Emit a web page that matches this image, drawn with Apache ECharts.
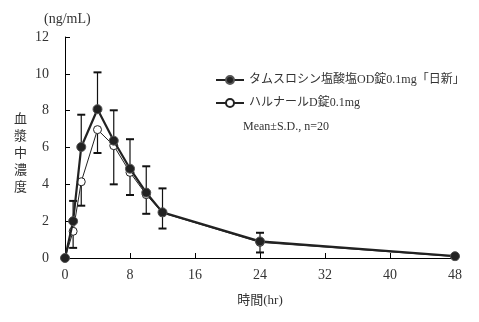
<!DOCTYPE html>
<html><head><meta charset="utf-8">
<script src="https://cdn.jsdelivr.net/npm/echarts@6/dist/echarts.min.js"></script>
<style>html,body{margin:0;padding:0;background:#fff}#c{width:479px;height:322px}</style>
</head><body><div id="c"></div>
<script>
var times = [0, 1, 2, 4, 6, 8, 10, 12, 24, 48];
var nisshinMean = [0, 2.0, 6.03, 8.08, 6.37, 4.85, 3.55, 2.48, 0.9, 0.1];
var nisshinSD   = [0, 1.1, 1.75, 2.0, 1.65, 1.6, 1.43, 1.3, 0.47, 0];
var harnalMean  = [0, 1.45, 4.14, 6.97, 6.1, 4.65, 3.44, 2.45, 0.85, 0.08];
var harnalSD    = [0, 0.9, 1.3, 1.27, 2.1, 1.23, 1.04, 0.85, 0.55, 0];
var xTicks = [0, 8, 16, 24, 32, 40, 48];
var yTicks = [0, 2, 4, 6, 8, 10, 12];
var seriesNames = ['タムスロシン塩酸塩OD錠0.1mg「日新」', 'ハルナールD錠0.1mg'];
var noteText = 'Mean±S.D., n=20';
var xName = '時間(hr)';
var yUnit = '(ng/mL)';
var yName = '血漿中濃度';

var FONT = '"Liberation Serif", "Noto Sans CJK JP", serif';
var chart = echarts.init(document.getElementById('c'), null, {renderer: 'canvas'});

function pairs(m) { return times.map(function (t, i) { return [t, m[i]]; }); }
var errData = [];
times.forEach(function (t, i) {
  if (nisshinSD[i] > 0) errData.push([t, nisshinMean[i], nisshinMean[i] + nisshinSD[i]]);
  if (harnalSD[i] > 0) errData.push([t, harnalMean[i], harnalMean[i] - harnalSD[i]]);
});

chart.setOption({
  animation: false,
  backgroundColor: '#fff',
  textStyle: {fontFamily: FONT},
  grid: {left: 65, right: 24, top: 37, bottom: 64},
  xAxis: {
    type: 'value', min: 0, max: 48, interval: 8,
    axisLine: {lineStyle: {color: '#000', width: 1}},
    axisTick: {inside: true, length: 5, lineStyle: {color: '#000'}},
    axisLabel: {color: '#333', fontSize: 14, fontFamily: FONT, margin: 10,
      formatter: function (v) { return xTicks.indexOf(v) >= 0 ? String(v) : ''; }},
    splitLine: {show: false},
    name: xName, nameLocation: 'middle', nameGap: 36,
    nameTextStyle: {color: '#333', fontSize: 13, fontFamily: FONT}
  },
  yAxis: {
    type: 'value', min: 0, max: 12, interval: 2,
    axisLine: {show: true, lineStyle: {color: '#000', width: 1}},
    axisTick: {show: true, inside: true, length: 5, lineStyle: {color: '#000'}},
    axisLabel: {color: '#333', fontSize: 14, fontFamily: FONT, margin: 16,
      formatter: function (v) { return yTicks.indexOf(v) >= 0 ? String(v) : ''; }},
    splitLine: {show: false}
  },
  legend: {
    orient: 'vertical', left: 210, top: 69, itemGap: 11,
    itemWidth: 28, itemHeight: 10,
    textStyle: {color: '#333', fontSize: 12, fontFamily: FONT},
    data: seriesNames
  },
  graphic: [
    {type: 'text', left: 243, top: 121, style: {text: noteText, fill: '#333', font: '12px ' + FONT}},
    {type: 'text', left: 44, top: 12, style: {text: yUnit, fill: '#333', font: '14px ' + FONT}},
    {type: 'text', left: 14, top: 110, style: {text: yName.split('').join('\n'), fill: '#333', font: '13px "Noto Sans CJK JP"', lineHeight: 17}}
  ],
  series: [
    {
      type: 'custom', name: 'err', z: 1, silent: true,
      data: errData,
      renderItem: function (params, api) {
        var p0 = api.coord([api.value(0), api.value(1)]);
        var p1 = api.coord([api.value(0), api.value(2)]);
        var w = 4;
        return {type: 'group', children: [
          {type: 'line', shape: {x1: p0[0], y1: p0[1], x2: p1[0], y2: p1[1]}, style: {stroke: '#111', lineWidth: 1.2}},
          {type: 'line', shape: {x1: p1[0] - w, y1: p1[1], x2: p1[0] + w, y2: p1[1]}, style: {stroke: '#111', lineWidth: 2}}
        ]};
      }
    },
    {
      name: seriesNames[1], type: 'line', z: 3, data: pairs(harnalMean),
      symbol: 'circle', symbolSize: 8,
      lineStyle: {color: '#222', width: 1},
      itemStyle: {color: '#fff', borderColor: '#222', borderWidth: 1}
    },
    {
      name: seriesNames[0], type: 'line', z: 4, data: pairs(nisshinMean),
      symbol: 'circle', symbolSize: 9,
      lineStyle: {color: '#222', width: 2.2},
      itemStyle: {color: '#222', borderColor: '#555', borderWidth: 1}
    }
  ]
});
</script></body></html>
